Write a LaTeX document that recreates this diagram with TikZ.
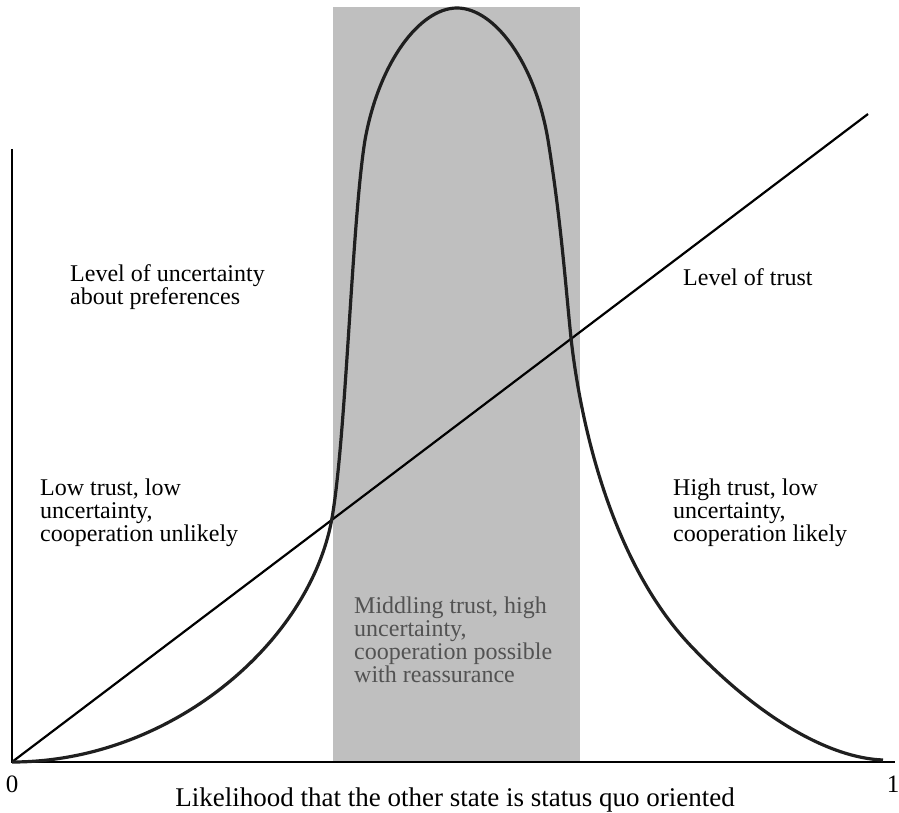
\documentclass[tikz,border=0pt]{standalone}
\usepackage{fontspec}
\setmainfont{Liberation Serif}
\begin{document}
\begin{tikzpicture}[x=1pt,y=-1pt,
  lbl/.style={anchor=north west, align=left, font=\fontsize{24}{23}\selectfont, inner sep=0pt},
  axislbl/.style={font=\fontsize{27}{28}\selectfont, inner sep=0pt},
  ticklbl/.style={font=\fontsize{25}{26}\selectfont, inner sep=0pt},
  axisline/.style={line width=2.4pt, black},
  curveline/.style={line width=3.2pt, black!88},
  trustline/.style={line width=2.2pt, black}]
\useasboundingbox (0,0) rectangle (899,813);
\fill[gray!50] (333,7) rectangle (580,763);
\coordinate (origin) at (12,762);
\coordinate (ytop) at (12,149);
\coordinate (xend) at (895,762);
\coordinate (trustend) at (868,114);
\draw[axisline] (ytop) -- (origin) -- (xend);
\draw[trustline] (origin) -- (trustend);
\draw[curveline] (12,762) .. controls (170,762) and (310,643) .. (332,518)
  .. controls (346,438) and (352,220) .. (365,140)
  .. controls (379,62) and (420,8) .. (457,8)
  .. controls (494,8) and (535,62) .. (548,140)
  .. controls (561,220) and (566,290) .. (571,338)
  .. controls (580,420) and (610,560) .. (690,645)
  .. controls (760,719) and (830,758) .. (883,760);
\node[lbl] (unc) at (70,264) {Level of uncertainty\\about preferences};
\node[lbl] (trust) at (683,268) {Level of trust};
\node[lbl] (low) at (40,479) {Low trust, low\\uncertainty,\\cooperation unlikely};
\node[lbl] (high) at (673,479) {High trust, low\\uncertainty,\\cooperation likely};
\node[lbl, text=black!68] (mid) at (354,597) {Middling trust, high\\uncertainty,\\cooperation possible\\with reassurance};
\node[ticklbl] (zero) at (12,784) {0};
\node[ticklbl] (one) at (893,784) {1};
\node[axislbl] (xlabel) at (455,800) {Likelihood that the other state is status quo oriented};
\end{tikzpicture}
\end{document}
